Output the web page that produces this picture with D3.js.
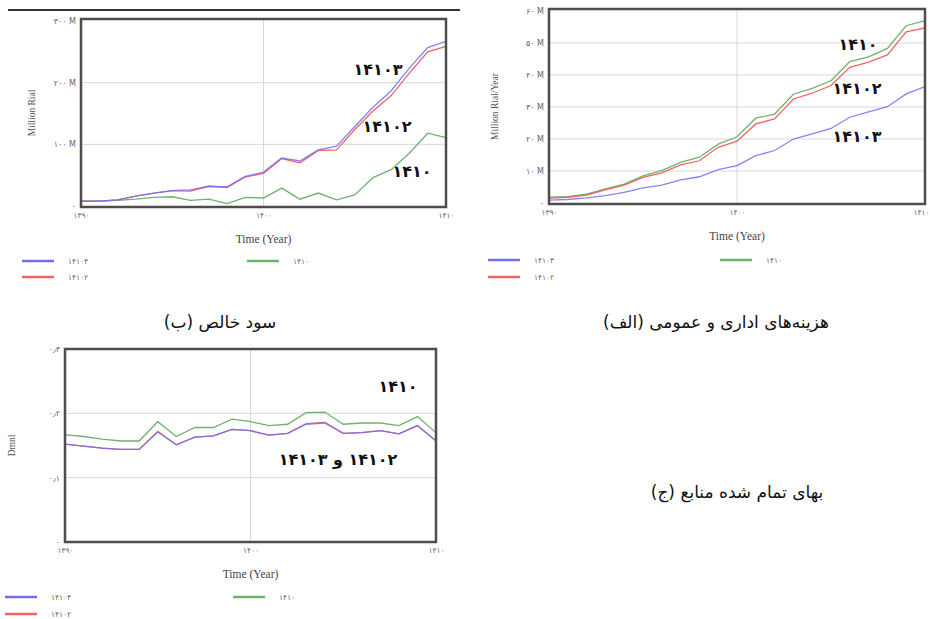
<!DOCTYPE html>
<html>
<head>
<meta charset="utf-8">
<script src="https://cdn.jsdelivr.net/npm/d3@7"></script>
<style>
  html, body { margin: 0; padding: 0; background: #fff; }
  svg { display: block; }
</style>
</head>
<body>
<svg id="chart" width="930" height="619"></svg>
<script>
// Simulation years (Persian calendar)
const years = [1390, 1391, 1392, 1393, 1394, 1395, 1396, 1397, 1398, 1399, 1400,
               1401, 1402, 1403, 1404, 1405, 1406, 1407, 1408, 1409, 1410];
const xTickYears = [1390, 1400, 1410];
const xTickLabels = ["۱۳۹۰", "۱۴۰۰", "۱۴۱۰"];

// Net profit (Million Rial)
const profit14103 = [7.7, 8, 10, 16, 21, 25, 26, 32, 31, 48, 55, 78, 73, 91, 97, 129, 160, 187, 224, 257, 267];
const profit14102 = [7.7, 8, 10, 16, 21, 25, 24, 32, 30, 47, 53, 77, 70, 90, 91, 124, 154, 179, 216, 250, 259];
const profit1410  = [8, 8, 9, 11, 14, 15, 9, 11, 4, 14, 13, 29, 11, 21, 10, 18, 46, 59, 86, 118, 111];
const profitTicks = [0, 100, 200, 300];
const profitTickLabels = ["۰", "۱۰۰ M", "۲۰۰ M", "۳۰۰ M"];

// Administrative and general expenses (Million Rial / Year)
const admin14103 = [0.9, 1.1, 1.6, 2.3, 3.3, 4.7, 5.6, 7.2, 8.2, 10.4, 11.7, 14.8, 16.4, 20.0, 21.6, 23.3, 26.8, 28.5, 30.1, 34.1, 36.4];
const admin14102 = [1.5, 1.8, 2.5, 4.1, 5.6, 8.0, 9.4, 11.9, 13.2, 17.4, 19.3, 24.7, 26.3, 32.5, 34.3, 36.7, 42.4, 44.0, 46.3, 53.5, 54.7];
const admin1410  = [1.8, 2.0, 2.8, 4.4, 5.9, 8.5, 10.1, 12.7, 14.3, 18.4, 20.7, 26.5, 27.8, 34.0, 35.8, 38.2, 44.2, 45.7, 48.3, 55.4, 57.0];
const adminTicks = [0, 10, 20, 30, 40, 50, 60];
const adminTickLabels = ["۰", "۱۰ M", "۲۰ M", "۳۰ M", "۴۰ M", "۵۰ M", "۶۰ M"];

// Cost price of resources (dimensionless)
const cost14103 = [0.152, 0.149, 0.146, 0.144, 0.144, 0.171, 0.151, 0.163, 0.165, 0.175, 0.173, 0.166, 0.169, 0.183, 0.185, 0.169, 0.170, 0.173, 0.168, 0.181, 0.157];
const cost14102 = [0.152, 0.149, 0.146, 0.144, 0.144, 0.172, 0.151, 0.163, 0.165, 0.175, 0.173, 0.166, 0.169, 0.184, 0.186, 0.169, 0.170, 0.173, 0.168, 0.181, 0.157];
const cost1410  = [0.167, 0.164, 0.160, 0.157, 0.157, 0.187, 0.164, 0.178, 0.178, 0.191, 0.187, 0.181, 0.183, 0.201, 0.202, 0.183, 0.185, 0.185, 0.181, 0.195, 0.170];
const costTicks = [0, 0.1, 0.2, 0.3];
const costTickLabels = ["۰", "۰٫۱", "۰٫۲", "۰٫۳"];

const scenarioNames = ["۱۴۱۰۳", "۱۴۱۰۲", "۱۴۱۰"];
const scenarioColors = ["#6f6ff4", "#f06464", "#6fb26f"];

const svg = d3.select("#chart");
const faFont = "DejaVu Sans, sans-serif";
const serifFont = "Liberation Serif, DejaVu Serif, serif";

// Thin rule across the top of the first panel
svg.append("line").attr("x1", 8).attr("x2", 460).attr("y1", 10).attr("y2", 10)
  .attr("stroke", "#333").attr("stroke-width", 2);

function drawPanel(p) {
  const g = svg.append("g");
  const x = d3.scaleLinear().domain([1390, 1410]).range([p.left, p.right]);
  const y = d3.scaleLinear().domain(p.yDomain).range([p.y0, p.y1]);

  // gridlines
  g.append("g").selectAll("line").data(p.ticks.slice(1, -1)).join("line")
    .attr("x1", p.left).attr("x2", p.right)
    .attr("y1", d => y(d)).attr("y2", d => y(d))
    .attr("stroke", "#d8d8d8").attr("stroke-width", 1);
  g.append("line").attr("x1", x(1400)).attr("x2", x(1400))
    .attr("y1", p.top).attr("y2", p.bottom)
    .attr("stroke", "#d8d8d8").attr("stroke-width", 1);

  // series
  const line = d3.line().x((d, i) => x(years[i])).y(d => y(d));
  const order = [2, 1, 0];
  order.forEach(k => {
    g.append("path").datum(p.series[k])
      .attr("fill", "none").attr("stroke", scenarioColors[k])
      .attr("stroke-width", 1.3).attr("stroke-opacity", k === 0 ? 0.85 : 1)
      .attr("d", line);
  });

  // frame
  g.append("rect").attr("x", p.left).attr("y", p.top)
    .attr("width", p.right - p.left).attr("height", p.bottom - p.top)
    .attr("fill", "none").attr("stroke", "#4d4d4d").attr("stroke-width", 2.5);

  // y axis
  const ya = d3.axisLeft(y).tickValues(p.ticks)
    .tickFormat((d, i) => p.tickLabels[i]).tickSize(0).tickPadding(5);
  const yg = g.append("g").attr("transform", `translate(${p.left},0)`).call(ya);
  yg.select(".domain").remove();
  yg.selectAll("text").attr("font-family", faFont).attr("font-size", 8).attr("fill", "#666");

  // x axis
  const xa = d3.axisBottom(x).tickValues(xTickYears)
    .tickFormat((d, i) => xTickLabels[i]).tickSize(0).tickPadding(6);
  const xg = g.append("g").attr("transform", `translate(0,${p.bottom})`).call(xa);
  xg.select(".domain").remove();
  xg.selectAll("text").attr("font-family", faFont).attr("font-size", 7.5).attr("fill", "#666");
  if (p.right > 900) {
    // keep the last year label inside the page
    xg.selectAll("text").filter((d, i) => i === 2).attr("text-anchor", "end").attr("dx", 4);
  }

  // axis titles
  g.append("text").attr("x", (p.left + p.right) / 2).attr("y", p.bottom + 36)
    .attr("text-anchor", "middle").attr("font-family", serifFont).attr("font-size", 11.5)
    .attr("fill", "#444").text("Time (Year)");
  g.append("text").attr("transform", `translate(${p.yTitleX},${(p.top + p.bottom) / 2}) rotate(-90)`)
    .attr("text-anchor", "middle").attr("font-family", serifFont).attr("font-size", 9.5)
    .attr("fill", "#555").text(p.yTitle);

  // legend
  const legendItems = [
    { k: 0, lx: p.legX1, ly: p.legY1 },
    { k: 1, lx: p.legX1, ly: p.legY2 },
    { k: 2, lx: p.legX2, ly: p.legY1 }
  ];
  legendItems.forEach(it => {
    g.append("line").attr("x1", it.lx).attr("x2", it.lx + 32)
      .attr("y1", it.ly).attr("y2", it.ly)
      .attr("stroke", scenarioColors[it.k]).attr("stroke-width", 2.5);
    g.append("text").attr("x", it.lx + 46).attr("y", it.ly + 3)
      .attr("font-family", faFont).attr("font-size", 7.5).attr("fill", "#666")
      .text(scenarioNames[it.k]);
  });

  // scenario labels inside the plot
  p.notes.forEach(n => {
    g.append("text").attr("x", n.x).attr("y", n.y)
      .attr("text-anchor", "middle").attr("direction", "rtl")
      .attr("font-family", faFont).attr("font-size", 16).attr("font-weight", "bold")
      .attr("fill", "#111").text(n.text);
  });

  // caption
  svg.append("text").attr("x", p.capX).attr("y", p.capY)
    .attr("text-anchor", "middle").attr("direction", "rtl")
    .attr("font-family", faFont).attr("font-size", 17).attr("fill", "#111")
    .text(p.caption);
}

drawPanel({
  left: 81, right: 446, top: 19, bottom: 207, y0: 206, y1: 21,
  yDomain: [0, 300], ticks: profitTicks, tickLabels: profitTickLabels,
  series: [profit14103, profit14102, profit1410],
  yTitle: "Million Rial", yTitleX: 35,
  legX1: 22, legX2: 247, legY1: 261, legY2: 277,
  notes: [
    { text: "۱۴۱۰۳", x: 378, y: 75 },
    { text: "۱۴۱۰۲", x: 387, y: 132 },
    { text: "۱۴۱۰", x: 412, y: 177 }
  ],
  caption: "سود خالص (ب)", capX: 220, capY: 328
});

drawPanel({
  left: 549, right: 925, top: 9, bottom: 204, y0: 203, y1: 11,
  yDomain: [0, 60], ticks: adminTicks, tickLabels: adminTickLabels,
  series: [admin14103, admin14102, admin1410],
  yTitle: "Million Rial/Year", yTitleX: 498,
  legX1: 488, legX2: 720, legY1: 260, legY2: 277,
  notes: [
    { text: "۱۴۱۰", x: 858, y: 50 },
    { text: "۱۴۱۰۲", x: 857, y: 94 },
    { text: "۱۴۱۰۳", x: 857, y: 142 }
  ],
  caption: "هزینه‌های اداری و عمومی (الف)", capX: 716, capY: 328
});

drawPanel({
  left: 65, right: 436, top: 349, bottom: 542, y0: 542, y1: 349,
  yDomain: [0, 0.3], ticks: costTicks, tickLabels: costTickLabels,
  series: [cost14103, cost14102, cost1410],
  yTitle: "Dmnl", yTitleX: 15,
  legX1: 5, legX2: 233, legY1: 597, legY2: 614,
  notes: [
    { text: "۱۴۱۰", x: 398, y: 392 },
    { text: "۱۴۱۰۲ و ۱۴۱۰۳", x: 338, y: 465 }
  ],
  caption: "بهای تمام شده منابع (ج)", capX: 737, capY: 498
});
</script>
</body>
</html>
